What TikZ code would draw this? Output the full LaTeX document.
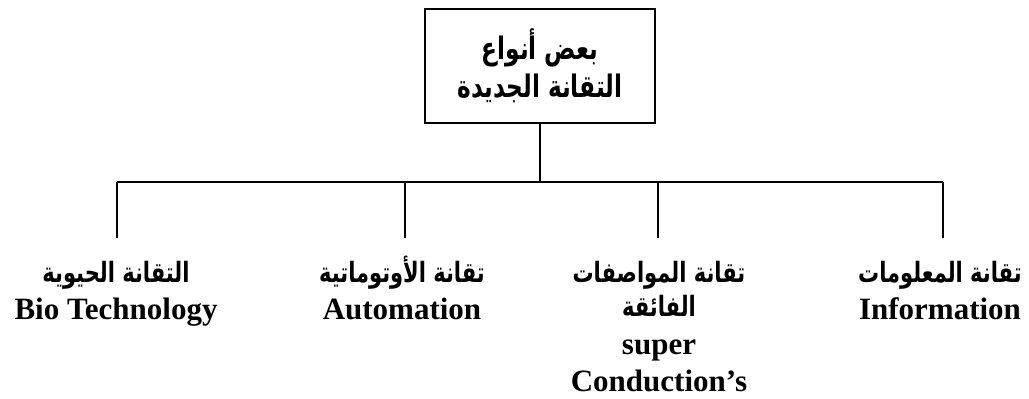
\documentclass[tikz,border=0pt]{standalone}
\usepackage{fontspec}
\setmainfont{Liberation Serif}
\newfontfamily\arabicfont[Script=Arabic,FakeStretch=0.75]{DejaVu Sans}
\TeXXeTstate=1
% Arabic line in bold, right to left
\newcommand{\ar}[1]{{\arabicfont\bfseries\beginR #1\endR}}
% Arabic line of a leaf, at the leaf size
\newcommand{\arleaf}[1]{{\arabicfont\bfseries\fontsize{28}{37}\selectfont\beginR #1\endR}}
% fixed height for the first line of a leaf
\newcommand{\firstline}{\rule{0pt}{28pt}}
\begin{document}
\begin{tikzpicture}[x=1pt,y=-1pt,
  line/.style={line width=1.4pt},
  rootbox/.style={draw, line width=1.8pt, minimum width=230pt, minimum height=114pt,
    align=center, inner sep=0pt, font=\fontsize{31}{37}\selectfont},
  leaf/.style={align=center, anchor=north, inner sep=0pt,
    font=\bfseries\fontsize{31}{37}\selectfont}]
  \useasboundingbox (0,0) rectangle (1029,399);

  % root of the tree
  \node[rootbox] (root) at (540,66) {\ar{بعض أنواع}\\[1pt]\ar{التقانة الجديدة}};

  % bus line and the feet of the four branches
  \coordinate (bus) at (540,182);
  \coordinate (t1) at (117,238);
  \coordinate (t2) at (405,238);
  \coordinate (t3) at (658,238);
  \coordinate (t4) at (943,238);

  % leaves
  \node[leaf] (c1) at (116,254) {\firstline\arleaf{التقانة الحيوية}\\Bio Technology};
  \node[leaf] (c2) at (402,254) {\firstline\arleaf{تقانة الأوتوماتية}\\Automation};
  \node[leaf] (c3) at (659,254) {\firstline\arleaf{تقانة المواصفات}\\[-3pt]\arleaf{الفائقة}\\[1pt]super\\Conduction’s};
  \node[leaf] (c4) at (940,254) {\firstline\arleaf{تقانة المعلومات}\\Information};

  % connectors
  \draw[line] (root.south) -- (bus);
  \draw[line] (t1 |- bus) -- (t4 |- bus);
  \foreach \t in {t1,t2,t3,t4} \draw[line] (\t |- bus) -- (\t);
\end{tikzpicture}
\end{document}
